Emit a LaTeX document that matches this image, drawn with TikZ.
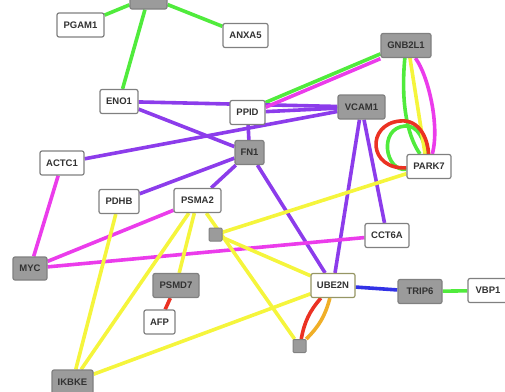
\documentclass[tikz,border=0pt]{standalone}
\usepackage{fontspec}
\setmainfont{Liberation Sans}
\usetikzlibrary{backgrounds}
\definecolor{eg}{RGB}{80,235,60}
\definecolor{ep}{RGB}{140,60,235}
\definecolor{em}{RGB}{235,60,235}
\definecolor{ey}{RGB}{245,245,60}
\definecolor{er}{RGB}{235,50,35}
\definecolor{eo}{RGB}{240,175,40}
\definecolor{eb}{RGB}{50,50,230}
\definecolor{greyc}{RGB}{155,155,155}
\definecolor{bordc}{RGB}{128,128,128}
\definecolor{txtc}{RGB}{50,50,50}
\begin{document}
\begin{tikzpicture}[x=1pt,y=-1pt,
  nd/.style={rectangle, rounded corners=2pt, draw=bordc, line width=1.2pt, inner sep=0pt,
     minimum height=24pt, font=\fontsize{9.5}{10}\selectfont\bfseries, text=txtc},
  wn/.style={nd, fill=white},
  gn/.style={nd, fill=greyc},
  sq/.style={rectangle, rounded corners=1pt, draw=bordc, fill=greyc, line width=1pt,
     minimum size=13pt, inner sep=0pt},
  ed/.style={line width=3.6pt}]
\useasboundingbox (0,0) rectangle (505,391);
\clip (0,0) rectangle (505,391);
% nodes
\node[gn, minimum width=37pt] (TOP) at (148.5,-3) {};
\node[wn, minimum width=47pt] (PGAM1) at (80.5,25) {PGAM1};
\node[wn, minimum width=45pt] (ANXA5) at (245.5,35.5) {ANXA5};
\node[wn, minimum width=38pt] (ENO1) at (119,101.5) {ENO1};
\node[wn, minimum width=35pt] (PPID) at (247.5,112.5) {PPID};
\node[gn, minimum width=29pt] (FN1) at (249.5,152.5) {FN1};
\node[wn, minimum width=44pt] (ACTC1) at (62,163) {ACTC1};
\node[gn, minimum width=47pt] (VCAM1) at (361.5,107) {VCAM1};
\node[gn, minimum width=50pt] (GNB2L1) at (406,45.5) {GNB2L1};
\node[wn, minimum width=44pt] (PARK7) at (429,166.5) {PARK7};
\node[wn, minimum width=40pt] (PDHB) at (119,201.5) {PDHB};
\node[wn, minimum width=47pt] (PSMA2) at (197.5,200.5) {PSMA2};
\node[sq] (SQ1) at (215.5,234.5) {};
\node[gn, minimum width=34pt, minimum height=23pt] (MYC) at (30,268.5) {MYC};
\node[gn, minimum width=46pt] (PSMD7) at (176,285.5) {PSMD7};
\node[wn, minimum width=31pt] (AFP) at (159.5,322) {AFP};
\node[gn, minimum width=41pt] (IKBKE) at (72.5,382) {IKBKE};
\node[wn, minimum width=44pt] (CCT6A) at (387,235.5) {CCT6A};
\node[wn, minimum width=44pt, draw={rgb,255:red,150;green,150;blue,100}] (UBE2N) at (333,285.5) {UBE2N};
\node[gn, minimum width=44pt] (TRIP6) at (420,291.5) {TRIP6};
\node[wn, minimum width=40pt] (VBP1) at (488,290.5) {VBP1};
\node[sq] (SQ2) at (299.5,346) {};
% edges
\begin{pgfonlayer}{background}
% green
\draw[ed,eg] (TOP) -- (PGAM1);
\draw[ed,eg] (TOP) -- (ANXA5);
\draw[ed,eg] (TOP) -- (ENO1);
\draw[ed,eg,transform canvas={yshift=2.4pt}] (GNB2L1) -- (PPID);
\draw[ed,eg] (GNB2L1) .. controls (400,110) and (410,140) .. (PARK7);
\draw[ed,eg] (PARK7) .. controls (385,172) and (378,128) .. (405,126) .. controls (418,125) and (424,140) .. (PARK7);
\draw[ed,eg] (TRIP6) -- (VBP1);
% purple
\draw[ed,ep] (ENO1) -- (VCAM1);
\draw[ed,ep] (PPID) -- (VCAM1);
\draw[ed,ep] (ACTC1) -- (VCAM1);
\draw[ed,ep] (ENO1) -- (FN1);
\draw[ed,ep] (PPID) -- (FN1);
\draw[ed,ep] (FN1) -- (PDHB);
\draw[ed,ep] (FN1) -- (PSMA2);
\draw[ed,ep] (FN1) -- (UBE2N);
\draw[ed,ep] (VCAM1) -- (UBE2N);
\draw[ed,ep] (VCAM1) -- (CCT6A);
% magenta
\draw[ed,em,transform canvas={yshift=-2.4pt}] (GNB2L1) -- (PPID);
\draw[ed,em] (GNB2L1) .. controls (428,75) and (440,125) .. (PARK7);
\draw[ed,em] (ACTC1) -- (MYC);
\draw[ed,em] (MYC) -- (PSMA2);
\draw[ed,em] (MYC) -- (CCT6A);
% yellow
\draw[ed,ey] ([xshift=2pt]GNB2L1.center) -- ([xshift=-2pt]PARK7.center);
\draw[ed,ey] (PARK7) -- (SQ1);
\draw[ed,ey] (SQ1) -- (UBE2N);
\draw[ed,ey] (PSMA2) -- (SQ2);
\draw[ed,ey] (PSMA2) -- (IKBKE);
\draw[ed,ey] (PSMA2) -- (PSMD7);
\draw[ed,ey] (PDHB) -- (IKBKE);
\draw[ed,ey] (IKBKE) -- (UBE2N);
% red / orange / blue
\draw[ed,er] (PARK7) .. controls (368,170) and (366,124) .. (400,121) .. controls (420,119) and (428,140) .. (PARK7);
\draw[ed,er] (PSMD7) -- (AFP);
\draw[ed,er] (UBE2N) to[bend right=15] (SQ2);
\draw[ed,eo] (UBE2N) to[bend left=15] (SQ2);
\draw[ed,eb] (UBE2N) -- (TRIP6);
\end{pgfonlayer}
\end{tikzpicture}
\end{document}
